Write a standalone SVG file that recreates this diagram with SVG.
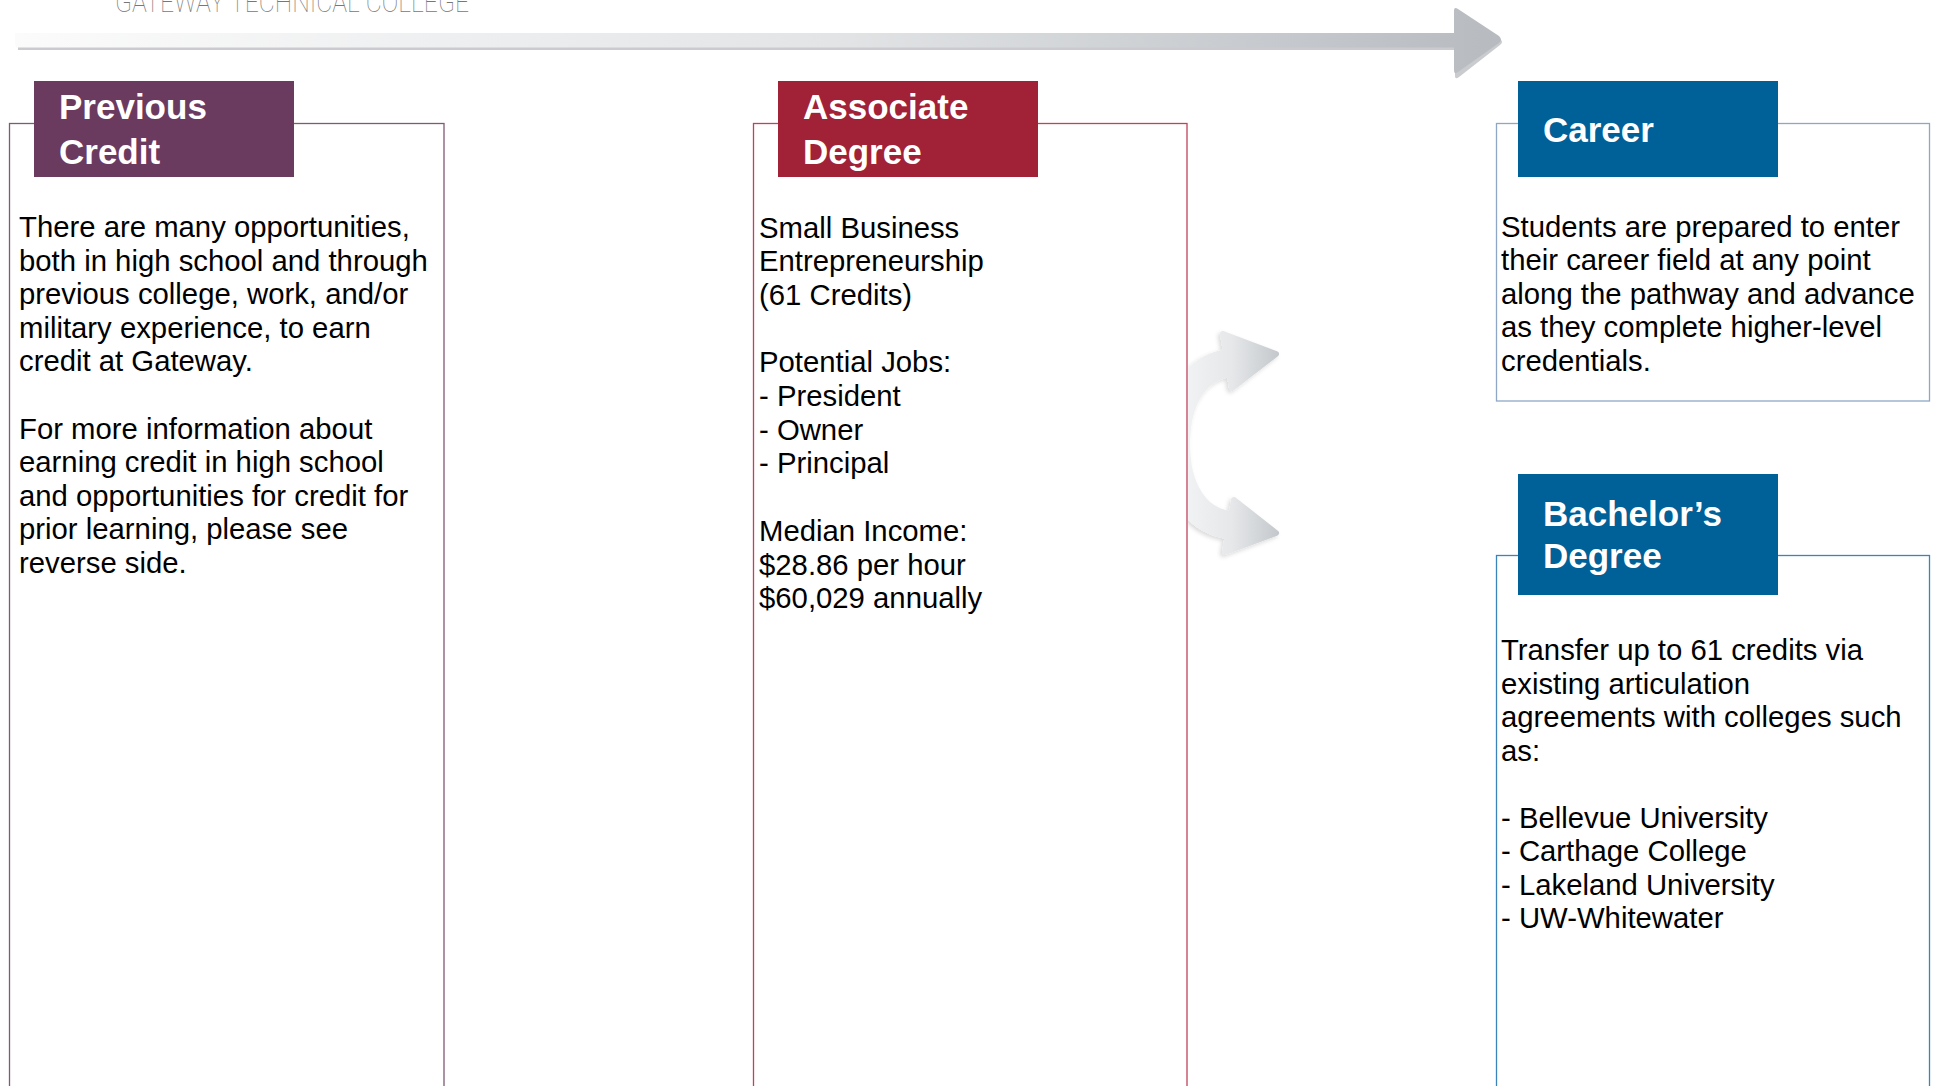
<svg xmlns="http://www.w3.org/2000/svg" width="1939" height="1086" viewBox="0 0 1939 1086">
<defs>
  <linearGradient id="barGrad" gradientUnits="userSpaceOnUse" x1="15" y1="0" x2="1502" y2="0">
    <stop offset="0" stop-color="#fbfbfb"/>
    <stop offset="0.55" stop-color="#e2e4e6"/>
    <stop offset="1" stop-color="#b7bbc0"/>
  </linearGradient>
  <linearGradient id="arcGrad" gradientUnits="userSpaceOnUse" x1="1175" y1="0" x2="1280" y2="0">
    <stop offset="0" stop-color="#f4f5f6"/>
    <stop offset="0.55" stop-color="#e5e7e9"/>
    <stop offset="1" stop-color="#c3c7cb"/>
  </linearGradient>
  <clipPath id="rightOfBox"><rect x="1188" y="300" width="150" height="300"/></clipPath>
  <filter id="soft" x="-20%" y="-20%" width="140%" height="140%">
    <feDropShadow dx="-2" dy="2" stdDeviation="2" flood-color="#000" flood-opacity="0.15"/>
  </filter>
</defs>
<style>
  .hdr{font-family:"Liberation Sans",Arial,Helvetica,sans-serif;font-weight:bold;font-size:35px;fill:#ffffff}
  .body{font-family:"Liberation Sans",Arial,Helvetica,sans-serif;font-size:29.3px;fill:#000000}
  .box{fill:none;stroke-width:1.3}
  .title{font-family:Roboto,"Liberation Sans",sans-serif;font-weight:100;font-size:30px;fill:#777777}
</style>
<rect width="1939" height="1086" fill="#ffffff"/>

<text class="title" x="115" y="12" textLength="354" lengthAdjust="spacingAndGlyphs">GATEWAY TECHNICAL COLLEGE</text>

<g id="timeline">
  <path d="M15 33 H1458 V50 H23 Q15 50 15 43 Z" fill="url(#barGrad)"/>
  <rect x="18" y="47.5" width="1440" height="2.5" fill="#c9cbce"/>
  <path d="M1455 13 Q1455 9 1459 12 L1500 39 Q1504 42 1500 45 L1459 77 Q1455 80 1455 76 Z" fill="#c9cbce"/>
  <path d="M1454 11 Q1454 6 1458 9 L1499 36 Q1503 40 1499 43 L1458 72 Q1454 75 1454 70 Z" fill="url(#barGrad)"/>
</g>

<g id="previous-credit">
  <rect class="box" x="9.5" y="123.5" width="434.5" height="1000" stroke="#7f5a76"/>
  <rect x="34" y="81" width="260" height="96" fill="#6b3a5f"/>
  <text class="hdr" x="59" y="119">Previous</text>
  <text class="hdr" x="59" y="164">Credit</text>
  <text class="body">
    <tspan x="19" y="237">There are many opportunities,</tspan>
    <tspan x="19" y="270.6">both in high school and through</tspan>
    <tspan x="19" y="304.2">previous college, work, and/or</tspan>
    <tspan x="19" y="337.8">military experience, to earn</tspan>
    <tspan x="19" y="371.4">credit at Gateway.</tspan>
    <tspan x="19" y="438.6">For more information about</tspan>
    <tspan x="19" y="472.2">earning credit in high school</tspan>
    <tspan x="19" y="505.8">and opportunities for credit for</tspan>
    <tspan x="19" y="539.4">prior learning, please see</tspan>
    <tspan x="19" y="573">reverse side.</tspan>
  </text>
</g>

<g id="associate-degree">
  <rect class="box" x="753.5" y="123.5" width="433.5" height="1000" stroke="#c0425a"/>
  <rect x="778" y="81" width="260" height="96" fill="#a12136"/>
  <text class="hdr" x="803" y="119">Associate</text>
  <text class="hdr" x="803" y="164">Degree</text>
  <text class="body">
    <tspan x="759" y="237.5">Small Business</tspan>
    <tspan x="759" y="271.2">Entrepreneurship</tspan>
    <tspan x="759" y="304.9">(61 Credits)</tspan>
    <tspan x="759" y="372.3">Potential Jobs:</tspan>
    <tspan x="759" y="406">- President</tspan>
    <tspan x="759" y="439.7">- Owner</tspan>
    <tspan x="759" y="473.4">- Principal</tspan>
    <tspan x="759" y="540.8">Median Income:</tspan>
    <tspan x="759" y="574.5">$28.86 per hour</tspan>
    <tspan x="759" y="608.2">$60,029 annually</tspan>
  </text>
</g>

<g id="career">
  <rect class="box" x="1496.5" y="123.5" width="433" height="277.5" stroke="#8ea7c6"/>
  <rect x="1518" y="81" width="260" height="96" fill="#006098"/>
  <text class="hdr" x="1543" y="142">Career</text>
  <text class="body">
    <tspan x="1501" y="236.5">Students are prepared to enter</tspan>
    <tspan x="1501" y="270.1">their career field at any point</tspan>
    <tspan x="1501" y="303.7">along the pathway and advance</tspan>
    <tspan x="1501" y="337.3">as they complete higher-level</tspan>
    <tspan x="1501" y="370.9">credentials.</tspan>
  </text>
</g>

<g id="bachelors-degree">
  <rect class="box" x="1496.5" y="555.5" width="433" height="600" stroke="#3a84bb"/>
  <rect x="1518" y="474" width="260" height="121" fill="#006098"/>
  <text class="hdr" x="1543" y="526">Bachelor’s</text>
  <text class="hdr" x="1543" y="568">Degree</text>
  <text class="body">
    <tspan x="1501" y="660">Transfer up to 61 credits via</tspan>
    <tspan x="1501" y="693.5">existing articulation</tspan>
    <tspan x="1501" y="727">agreements with colleges such</tspan>
    <tspan x="1501" y="760.5">as:</tspan>
    <tspan x="1501" y="827.5">- Bellevue University</tspan>
    <tspan x="1501" y="861">- Carthage College</tspan>
    <tspan x="1501" y="894.5">- Lakeland University</tspan>
    <tspan x="1501" y="928">- UW-Whitewater</tspan>
  </text>
</g>

<g id="connectors">
  <g clip-path="url(#rightOfBox)" filter="url(#soft)">
    <path d="M1230 363 C1195 367 1176 400 1176 444 C1176 488 1195 521 1230 525" fill="none" stroke="url(#arcGrad)" stroke-width="28"/>
    <path d="M1223 334 L1276 354 L1232 388 Z" fill="url(#arcGrad)" stroke="url(#arcGrad)" stroke-width="6" stroke-linejoin="round"/>
    <path d="M1234 500 L1276 533 L1225 552 Z" fill="url(#arcGrad)" stroke="url(#arcGrad)" stroke-width="6" stroke-linejoin="round"/>
  </g>
</g>
</svg>
